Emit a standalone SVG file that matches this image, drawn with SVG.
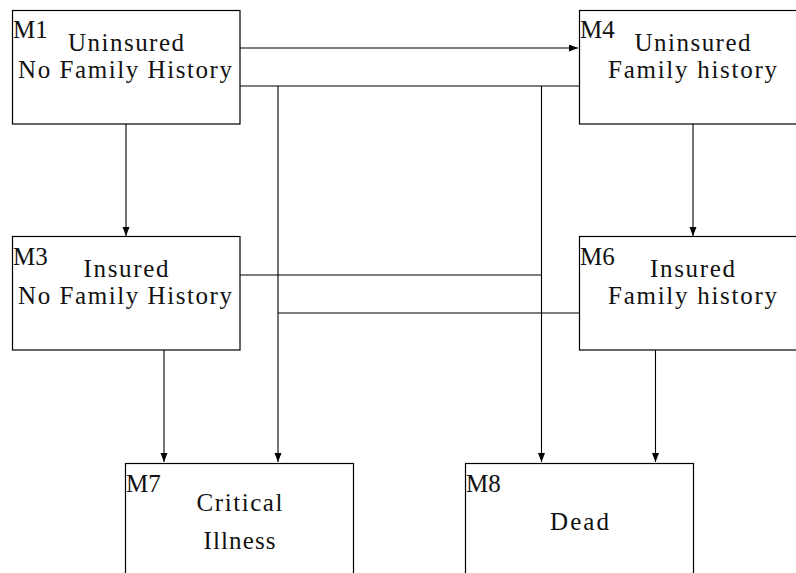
<svg xmlns="http://www.w3.org/2000/svg" width="796" height="573" viewBox="0 0 796 573">
<style>
.box{fill:#fff;stroke:#000;stroke-width:1.2}
.t{font-family:"Liberation Serif","Times New Roman","DejaVu Serif",serif;font-size:25px;fill:#111;text-anchor:middle}
.lab{font-family:"Liberation Serif","Times New Roman","DejaVu Serif",serif;font-size:25px;fill:#111}
.c{fill:none;stroke:#000;stroke-width:1.1}
</style>
<defs>
<marker id="ar" markerUnits="userSpaceOnUse" markerWidth="10" markerHeight="8" refX="9" refY="3.5" orient="auto">
<path d="M0,0 L9,3.5 L0,7 z" fill="#000"/>
</marker>
</defs>
<rect width="796" height="573" fill="#fff"/>
<g id="connectors">
<path class="c" d="M240,48 H578" marker-end="url(#ar)"/>
<path class="c" d="M126,124 V236" marker-end="url(#ar)"/>
<path class="c" d="M693,124 V236" marker-end="url(#ar)"/>
<path class="c" d="M240,86 H579"/>
<path class="c" d="M278,86 V462" marker-end="url(#ar)"/>
<path class="c" d="M541.5,86 V462" marker-end="url(#ar)"/>
<path class="c" d="M240,275 H541.5"/>
<path class="c" d="M579,313 H278"/>
<path class="c" d="M164,350 V462" marker-end="url(#ar)"/>
<path class="c" d="M655.5,350 V462" marker-end="url(#ar)"/>
</g>
<g id="M1">
<rect class="box" x="12.5" y="10.5" width="227.5" height="113.5"/>
<text class="lab" x="13" y="38">M1</text>
<text class="t" x="126" y="50.5" textLength="116" lengthAdjust="spacing">Uninsured</text>
<text class="t" x="125" y="77.5" textLength="214" lengthAdjust="spacing">No Family History</text>
</g>
<g id="M4">
<rect class="box" x="579.5" y="10.5" width="227.5" height="113.5"/>
<text class="lab" x="580" y="38">M4</text>
<text class="t" x="692.5" y="50.5" textLength="116" lengthAdjust="spacing">Uninsured</text>
<text class="t" x="692.5" y="77.5" textLength="169" lengthAdjust="spacing">Family history</text>
</g>
<g id="M3">
<rect class="box" x="12.5" y="236.5" width="227.5" height="113.5"/>
<text class="lab" x="13" y="265">M3</text>
<text class="t" x="126" y="276.5" textLength="85" lengthAdjust="spacing">Insured</text>
<text class="t" x="125" y="303.5" textLength="214" lengthAdjust="spacing">No Family History</text>
</g>
<g id="M6">
<rect class="box" x="579.5" y="236.5" width="227.5" height="113.5"/>
<text class="lab" x="580" y="265">M6</text>
<text class="t" x="692.5" y="276.5" textLength="85" lengthAdjust="spacing">Insured</text>
<text class="t" x="692.5" y="303.5" textLength="169" lengthAdjust="spacing">Family history</text>
</g>
<g id="M7">
<rect class="box" x="125.5" y="463.5" width="228" height="120"/>
<text class="lab" x="126" y="491.5">M7</text>
<text class="t" x="239.5" y="510.5" textLength="86" lengthAdjust="spacing">Critical</text>
<text class="t" x="239.5" y="549" textLength="72" lengthAdjust="spacing">Illness</text>
</g>
<g id="M8">
<rect class="box" x="465.5" y="463.5" width="228" height="120"/>
<text class="lab" x="466" y="491.5">M8</text>
<text class="t" x="579.5" y="530" textLength="59" lengthAdjust="spacing">Dead</text>
</g>
</svg>
